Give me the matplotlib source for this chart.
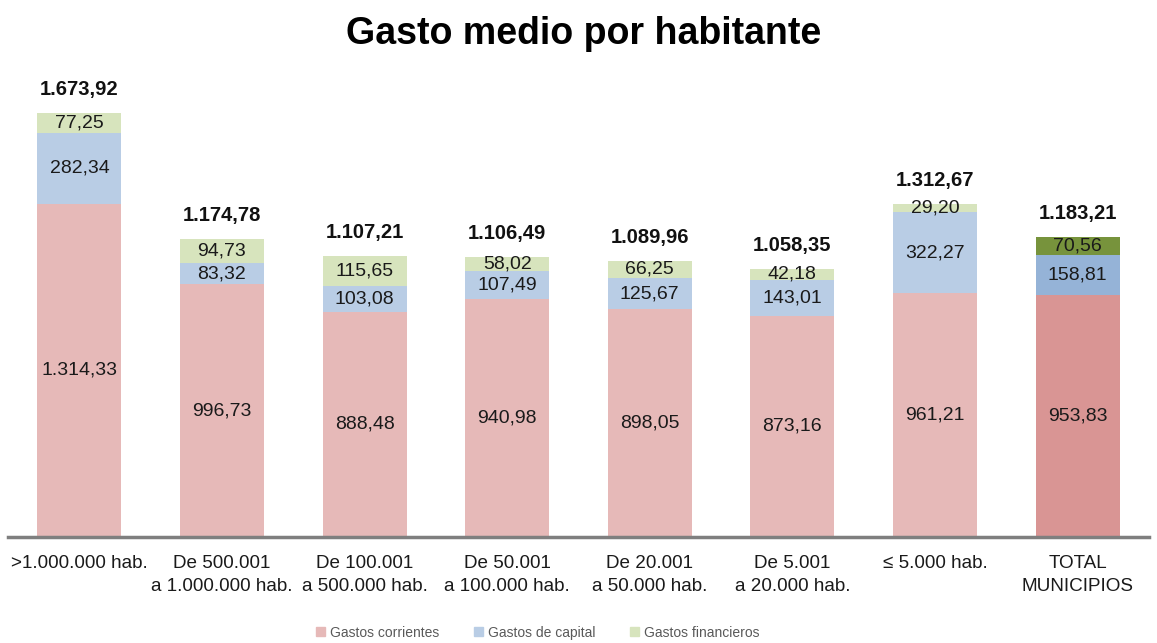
import matplotlib.pyplot as plt
import numpy as np

plt.rcParams['font.family'] = ['Liberation Sans', 'DejaVu Sans']

categories = ['>1.000.000 hab.', 'De 500.001\na 1.000.000 hab.', 'De 100.001\na 500.000 hab.',
              'De 50.001\na 100.000 hab.', 'De 20.001\na 50.000 hab.', 'De 5.001\na 20.000 hab.',
              '\u2264 5.000 hab.', 'TOTAL\nMUNICIPIOS']
corrientes = [1314.33, 996.73, 888.48, 940.98, 898.05, 873.16, 961.21, 953.83]
capital = [282.34, 83.32, 103.08, 107.49, 125.67, 143.01, 322.27, 158.81]
financieros = [77.25, 94.73, 115.65, 58.02, 66.25, 42.18, 29.20, 70.56]
totales = [1673.92, 1174.78, 1107.21, 1106.49, 1089.96, 1058.35, 1312.67, 1183.21]


def fmt(v):
    s = f'{v:,.2f}'
    return s.replace(',', 'X').replace('.', ',').replace('X', '.')


col_cor = ['#e6b9b8'] * 7 + ['#d99594']
col_cap = ['#b9cde5'] * 7 + ['#95b3d7']
col_fin = ['#d7e4bd'] * 7 + ['#77933c']

fig = plt.figure(figsize=(11.57, 6.43), dpi=100)
ax = fig.add_axes([0.007, 0.165, 0.986, 0.709])

x = np.arange(len(categories))
w = 0.59
cor = np.array(corrientes)
cap = np.array(capital)
fin = np.array(financieros)
ax.bar(x, cor, w, color=col_cor)
ax.bar(x, cap, w, bottom=cor, color=col_cap)
ax.bar(x, fin, w, bottom=cor + cap, color=col_fin)

fs = 14
for i in range(len(x)):
    ax.text(x[i], cor[i] / 2, fmt(cor[i]), ha='center', va='center', fontsize=fs, color='#1a1a1a')
    ax.text(x[i], cor[i] + cap[i] / 2, fmt(cap[i]), ha='center', va='center', fontsize=fs, color='#1a1a1a')
    ax.text(x[i], cor[i] + cap[i] + fin[i] / 2, fmt(fin[i]), ha='center', va='center', fontsize=fs, color='#1a1a1a')
    ax.annotate(fmt(totales[i]), (x[i], totales[i]), xytext=(0, 17), textcoords='offset points',
                ha='center', va='center', fontsize=14.5, fontweight='bold', color='#111111')

ax.set_xlim(-0.5, 7.5)
ax.set_ylim(0, 1800)
ax.set_yticks([])
ax.set_xticks(x)
ax.set_xticklabels(categories, fontsize=13.6, color='#1a1a1a', linespacing=1.45)
ax.tick_params(axis='x', length=0, pad=13)
for s in ['top', 'right', 'left']:
    ax.spines[s].set_visible(False)
ax.spines['bottom'].set_color('#7f7f7f')
ax.spines['bottom'].set_linewidth(2.5)

h = [plt.Rectangle((0, 0), 1, 1, color=c) for c in ['#e6b9b8', '#b9cde5', '#d7e4bd']]
fig.legend(h, ['Gastos corrientes', 'Gastos de capital', 'Gastos financieros'],
           loc='center', bbox_to_anchor=(0.465, 0.016), ncol=3, frameon=False,
           fontsize=10, handlelength=0.6, handleheight=0.6, columnspacing=2.5, handletextpad=0.4,
           labelcolor='#595959')

fig.suptitle('Gasto medio por habitante', x=0.504, y=0.975, fontsize=27, fontweight='bold')

fig.savefig('out.png', dpi=100)
